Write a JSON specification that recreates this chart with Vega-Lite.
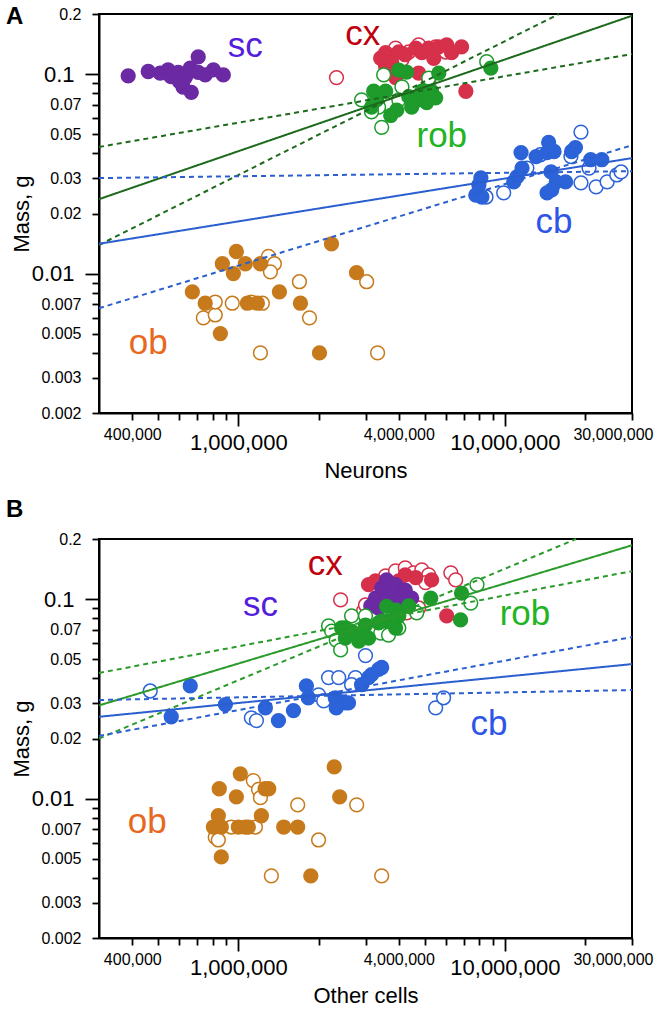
{
  "$schema": "https://vega.github.io/schema/vega-lite/v6.json",
  "background": "white",
  "padding": {"left": 5, "top": 4, "right": 5, "bottom": 5},
  "spacing": 15,
  "config": {
    "view": {"stroke": "black", "strokeWidth": 2},
    "font": "Liberation Sans",
    "axis": {"grid": false, "domainColor": "black", "domainWidth": 2, "tickColor": "black", "tickWidth": 1.8, "labelColor": "black", "titleColor": "black", "labelFont": "Liberation Sans", "titleFont": "Liberation Sans", "titleFontWeight": "normal", "titleFontSize": 22, "labelOverlap": false, "labelBound": false}
  },
  "datasets": {
    "pts": [
      {"p":"A","g":"cx","o":1,"N":2335000,"M":0.096},
      {"p":"A","g":"cx","o":1,"N":3890000,"M":0.135},
      {"p":"A","g":"cx","o":1,"N":4360000,"M":0.129},
      {"p":"A","g":"cx","o":1,"N":4750000,"M":0.14},
      {"p":"A","g":"cx","o":1,"N":5500000,"M":0.137},
      {"p":"A","g":"cx","o":1,"N":6000000,"M":0.129},
      {"p":"A","g":"cx","o":1,"N":4110000,"M":0.118},
      {"p":"A","g":"cx","o":0,"N":3420000,"M":0.12},
      {"p":"A","g":"cx","o":0,"N":3570000,"M":0.128},
      {"p":"A","g":"cx","o":0,"N":3760000,"M":0.114},
      {"p":"A","g":"cx","o":0,"N":4000000,"M":0.129},
      {"p":"A","g":"cx","o":0,"N":4230000,"M":0.125},
      {"p":"A","g":"cx","o":0,"N":4630000,"M":0.135},
      {"p":"A","g":"cx","o":0,"N":4880000,"M":0.128},
      {"p":"A","g":"cx","o":0,"N":5180000,"M":0.135},
      {"p":"A","g":"cx","o":0,"N":5410000,"M":0.12},
      {"p":"A","g":"cx","o":0,"N":5650000,"M":0.137},
      {"p":"A","g":"cx","o":0,"N":6050000,"M":0.14},
      {"p":"A","g":"cx","o":0,"N":6310000,"M":0.128},
      {"p":"A","g":"cx","o":0,"N":6880000,"M":0.137},
      {"p":"A","g":"cx","o":0,"N":3570000,"M":0.109},
      {"p":"A","g":"cx","o":0,"N":3890000,"M":0.096},
      {"p":"A","g":"cx","o":0,"N":4750000,"M":0.101},
      {"p":"A","g":"cx","o":0,"N":5180000,"M":0.092},
      {"p":"A","g":"cx","o":0,"N":7140000,"M":0.082},
      {"p":"A","g":"sc","o":0,"N":386000,"M":0.098},
      {"p":"A","g":"sc","o":0,"N":459000,"M":0.103},
      {"p":"A","g":"sc","o":0,"N":509000,"M":0.101},
      {"p":"A","g":"sc","o":0,"N":545000,"M":0.105},
      {"p":"A","g":"sc","o":0,"N":595000,"M":0.102},
      {"p":"A","g":"sc","o":0,"N":632000,"M":0.096},
      {"p":"A","g":"sc","o":0,"N":660000,"M":0.107},
      {"p":"A","g":"sc","o":0,"N":707000,"M":0.122},
      {"p":"A","g":"sc","o":0,"N":707000,"M":0.102},
      {"p":"A","g":"sc","o":0,"N":751000,"M":0.099},
      {"p":"A","g":"sc","o":0,"N":806000,"M":0.105},
      {"p":"A","g":"sc","o":0,"N":878000,"M":0.099},
      {"p":"A","g":"sc","o":0,"N":666000,"M":0.081},
      {"p":"A","g":"sc","o":0,"N":620000,"M":0.086},
      {"p":"A","g":"sc","o":0,"N":559000,"M":0.097},
      {"p":"A","g":"sc","o":0,"N":640000,"M":0.1},
      {"p":"A","g":"sc","o":0,"N":600000,"M":0.092},
      {"p":"A","g":"rob","o":1,"N":3510000,"M":0.099},
      {"p":"A","g":"rob","o":1,"N":2900000,"M":0.0743},
      {"p":"A","g":"rob","o":1,"N":3360000,"M":0.0683},
      {"p":"A","g":"rob","o":1,"N":3450000,"M":0.0541},
      {"p":"A","g":"rob","o":1,"N":4000000,"M":0.0743},
      {"p":"A","g":"rob","o":1,"N":4110000,"M":0.0862},
      {"p":"A","g":"rob","o":1,"N":5180000,"M":0.0955},
      {"p":"A","g":"rob","o":1,"N":3160000,"M":0.0646},
      {"p":"A","g":"rob","o":1,"N":8550000,"M":0.1154},
      {"p":"A","g":"rob","o":0,"N":4000000,"M":0.1047},
      {"p":"A","g":"rob","o":0,"N":4280000,"M":0.1023},
      {"p":"A","g":"rob","o":0,"N":5650000,"M":0.101},
      {"p":"A","g":"rob","o":0,"N":5310000,"M":0.082},
      {"p":"A","g":"rob","o":0,"N":5500000,"M":0.076},
      {"p":"A","g":"rob","o":0,"N":4750000,"M":0.0743},
      {"p":"A","g":"rob","o":0,"N":4470000,"M":0.0683},
      {"p":"A","g":"rob","o":0,"N":3930000,"M":0.066},
      {"p":"A","g":"rob","o":0,"N":3730000,"M":0.062},
      {"p":"A","g":"rob","o":0,"N":3300000,"M":0.0743},
      {"p":"A","g":"rob","o":0,"N":3220000,"M":0.082},
      {"p":"A","g":"rob","o":0,"N":3570000,"M":0.082},
      {"p":"A","g":"rob","o":0,"N":3160000,"M":0.0683},
      {"p":"A","g":"rob","o":0,"N":4880000,"M":0.082},
      {"p":"A","g":"rob","o":0,"N":4360000,"M":0.077},
      {"p":"A","g":"rob","o":0,"N":5090000,"M":0.072},
      {"p":"A","g":"rob","o":0,"N":8860000,"M":0.107},
      {"p":"A","g":"cb","o":1,"N":19300000,"M":0.0512},
      {"p":"A","g":"cb","o":1,"N":9900000,"M":0.0254},
      {"p":"A","g":"cb","o":1,"N":8500000,"M":0.0242},
      {"p":"A","g":"cb","o":1,"N":12100000,"M":0.0338},
      {"p":"A","g":"cb","o":1,"N":19300000,"M":0.0285},
      {"p":"A","g":"cb","o":1,"N":22000000,"M":0.0272},
      {"p":"A","g":"cb","o":1,"N":24200000,"M":0.0288},
      {"p":"A","g":"cb","o":1,"N":26300000,"M":0.0312},
      {"p":"A","g":"cb","o":1,"N":27300000,"M":0.0323},
      {"p":"A","g":"cb","o":1,"N":13600000,"M":0.0394},
      {"p":"A","g":"cb","o":1,"N":17700000,"M":0.0386},
      {"p":"A","g":"cb","o":1,"N":20700000,"M":0.0338},
      {"p":"A","g":"cb","o":0,"N":8130000,"M":0.0302},
      {"p":"A","g":"cb","o":0,"N":7780000,"M":0.0247},
      {"p":"A","g":"cb","o":0,"N":8200000,"M":0.0242},
      {"p":"A","g":"cb","o":0,"N":7990000,"M":0.0278},
      {"p":"A","g":"cb","o":0,"N":11500000,"M":0.0404},
      {"p":"A","g":"cb","o":0,"N":11600000,"M":0.0338},
      {"p":"A","g":"cb","o":0,"N":10800000,"M":0.0288},
      {"p":"A","g":"cb","o":0,"N":11100000,"M":0.0305},
      {"p":"A","g":"cb","o":0,"N":14600000,"M":0.0454},
      {"p":"A","g":"cb","o":0,"N":14400000,"M":0.0404},
      {"p":"A","g":"cb","o":0,"N":15300000,"M":0.0409},
      {"p":"A","g":"cb","o":0,"N":14900000,"M":0.0323},
      {"p":"A","g":"cb","o":0,"N":15600000,"M":0.0288},
      {"p":"A","g":"cb","o":0,"N":14400000,"M":0.0254},
      {"p":"A","g":"cb","o":0,"N":15000000,"M":0.0263},
      {"p":"A","g":"cb","o":0,"N":16900000,"M":0.0288},
      {"p":"A","g":"cb","o":0,"N":17800000,"M":0.0409},
      {"p":"A","g":"cb","o":0,"N":18400000,"M":0.0428},
      {"p":"A","g":"cb","o":0,"N":21000000,"M":0.0372},
      {"p":"A","g":"cb","o":0,"N":23100000,"M":0.0372},
      {"p":"A","g":"cb","o":0,"N":13100000,"M":0.0386},
      {"p":"A","g":"ob","o":1,"N":739000,"M":0.006},
      {"p":"A","g":"ob","o":1,"N":819000,"M":0.0062},
      {"p":"A","g":"ob","o":1,"N":819000,"M":0.0072},
      {"p":"A","g":"ob","o":1,"N":949000,"M":0.0071},
      {"p":"A","g":"ob","o":1,"N":1119000,"M":0.0072},
      {"p":"A","g":"ob","o":1,"N":1231000,"M":0.0071},
      {"p":"A","g":"ob","o":1,"N":1297000,"M":0.0122},
      {"p":"A","g":"ob","o":1,"N":1365000,"M":0.0112},
      {"p":"A","g":"ob","o":1,"N":1319000,"M":0.0102},
      {"p":"A","g":"ob","o":1,"N":1210000,"M":0.004},
      {"p":"A","g":"ob","o":1,"N":1695000,"M":0.0091},
      {"p":"A","g":"ob","o":1,"N":1849000,"M":0.006},
      {"p":"A","g":"ob","o":1,"N":3030000,"M":0.0091},
      {"p":"A","g":"ob","o":1,"N":3330000,"M":0.004},
      {"p":"A","g":"ob","o":0,"N":672000,"M":0.0081},
      {"p":"A","g":"ob","o":0,"N":751000,"M":0.0071},
      {"p":"A","g":"ob","o":0,"N":856000,"M":0.005},
      {"p":"A","g":"ob","o":0,"N":871000,"M":0.0112},
      {"p":"A","g":"ob","o":0,"N":983000,"M":0.0129},
      {"p":"A","g":"ob","o":0,"N":958000,"M":0.01},
      {"p":"A","g":"ob","o":0,"N":1062000,"M":0.0112},
      {"p":"A","g":"ob","o":0,"N":1081000,"M":0.0071},
      {"p":"A","g":"ob","o":0,"N":1179000,"M":0.0071},
      {"p":"A","g":"ob","o":0,"N":1210000,"M":0.0112},
      {"p":"A","g":"ob","o":0,"N":1426000,"M":0.0081},
      {"p":"A","g":"ob","o":0,"N":1710000,"M":0.0071},
      {"p":"A","g":"ob","o":0,"N":2016000,"M":0.004},
      {"p":"A","g":"ob","o":0,"N":2236000,"M":0.0141},
      {"p":"A","g":"ob","o":0,"N":2776000,"M":0.0101},

      {"p":"B","g":"cx","o":1,"N":2420000,"M":0.099},
      {"p":"B","g":"cx","o":1,"N":2950000,"M":0.0873},
      {"p":"B","g":"cx","o":1,"N":3000000,"M":0.0934},
      {"p":"B","g":"cx","o":1,"N":4750000,"M":0.0902},
      {"p":"B","g":"cx","o":1,"N":4280000,"M":0.0853},
      {"p":"B","g":"cx","o":1,"N":3570000,"M":0.1308},
      {"p":"B","g":"cx","o":1,"N":3890000,"M":0.1384},
      {"p":"B","g":"cx","o":1,"N":4230000,"M":0.1434},
      {"p":"B","g":"cx","o":1,"N":4540000,"M":0.1354},
      {"p":"B","g":"cx","o":1,"N":4880000,"M":0.14},
      {"p":"B","g":"cx","o":1,"N":5180000,"M":0.1323},
      {"p":"B","g":"cx","o":1,"N":5040000,"M":0.121},
      {"p":"B","g":"cx","o":1,"N":6270000,"M":0.1354},
      {"p":"B","g":"cx","o":1,"N":6540000,"M":0.1247},
      {"p":"B","g":"cx","o":0,"N":3270000,"M":0.1234},
      {"p":"B","g":"cx","o":0,"N":3080000,"M":0.118},
      {"p":"B","g":"cx","o":0,"N":4230000,"M":0.1323},
      {"p":"B","g":"cx","o":0,"N":4630000,"M":0.128},
      {"p":"B","g":"cx","o":0,"N":4000000,"M":0.1234},
      {"p":"B","g":"cx","o":0,"N":5310000,"M":0.1247},
      {"p":"B","g":"cx","o":0,"N":6050000,"M":0.0824},
      {"p":"B","g":"sc","o":0,"N":3140000,"M":0.0923},
      {"p":"B","g":"sc","o":0,"N":3270000,"M":0.101},
      {"p":"B","g":"sc","o":0,"N":3450000,"M":0.1136},
      {"p":"B","g":"sc","o":0,"N":3600000,"M":0.1247},
      {"p":"B","g":"sc","o":0,"N":3890000,"M":0.118},
      {"p":"B","g":"sc","o":0,"N":4000000,"M":0.1047},
      {"p":"B","g":"sc","o":0,"N":4230000,"M":0.1108},
      {"p":"B","g":"sc","o":0,"N":3730000,"M":0.0977},
      {"p":"B","g":"sc","o":0,"N":3570000,"M":0.1047},
      {"p":"B","g":"sc","o":0,"N":4470000,"M":0.101},
      {"p":"B","g":"sc","o":0,"N":3360000,"M":0.0902},
      {"p":"B","g":"sc","o":0,"N":4110000,"M":0.0977},
      {"p":"B","g":"rob","o":1,"N":2180000,"M":0.0733},
      {"p":"B","g":"rob","o":1,"N":2240000,"M":0.069},
      {"p":"B","g":"rob","o":1,"N":2330000,"M":0.0623},
      {"p":"B","g":"rob","o":1,"N":2420000,"M":0.0556},
      {"p":"B","g":"rob","o":1,"N":2660000,"M":0.0824},
      {"p":"B","g":"rob","o":1,"N":3420000,"M":0.0675},
      {"p":"B","g":"rob","o":1,"N":3000000,"M":0.0824},
      {"p":"B","g":"rob","o":1,"N":4670000,"M":0.0853},
      {"p":"B","g":"rob","o":1,"N":7860000,"M":0.118},
      {"p":"B","g":"rob","o":1,"N":7450000,"M":0.0955},
      {"p":"B","g":"rob","o":1,"N":4000000,"M":0.0716},
      {"p":"B","g":"rob","o":1,"N":3660000,"M":0.066},
      {"p":"B","g":"rob","o":0,"N":2440000,"M":0.0716},
      {"p":"B","g":"rob","o":0,"N":2520000,"M":0.0716},
      {"p":"B","g":"rob","o":0,"N":2660000,"M":0.069},
      {"p":"B","g":"rob","o":0,"N":2900000,"M":0.066},
      {"p":"B","g":"rob","o":0,"N":2520000,"M":0.0637},
      {"p":"B","g":"rob","o":0,"N":3000000,"M":0.0741},
      {"p":"B","g":"rob","o":0,"N":3080000,"M":0.0637},
      {"p":"B","g":"rob","o":0,"N":2830000,"M":0.0616},
      {"p":"B","g":"rob","o":0,"N":3360000,"M":0.0759},
      {"p":"B","g":"rob","o":0,"N":3660000,"M":0.0776},
      {"p":"B","g":"rob","o":0,"N":3890000,"M":0.0716},
      {"p":"B","g":"rob","o":0,"N":4000000,"M":0.0824},
      {"p":"B","g":"rob","o":0,"N":4360000,"M":0.0923},
      {"p":"B","g":"rob","o":0,"N":5270000,"M":0.101},
      {"p":"B","g":"rob","o":0,"N":6880000,"M":0.107},
      {"p":"B","g":"rob","o":0,"N":6820000,"M":0.0786},
      {"p":"B","g":"rob","o":0,"N":3450000,"M":0.0776},
      {"p":"B","g":"rob","o":0,"N":3760000,"M":0.0776},
      {"p":"B","g":"rob","o":0,"N":3600000,"M":0.092},
      {"p":"B","g":"rob","o":0,"N":3900000,"M":0.088},
      {"p":"B","g":"cb","o":1,"N":467000,"M":0.0346},
      {"p":"B","g":"cb","o":1,"N":1119000,"M":0.0254},
      {"p":"B","g":"cb","o":1,"N":1169000,"M":0.0246},
      {"p":"B","g":"cb","o":1,"N":2000000,"M":0.0331},
      {"p":"B","g":"cb","o":1,"N":2090000,"M":0.0309},
      {"p":"B","g":"cb","o":1,"N":2180000,"M":0.0404},
      {"p":"B","g":"cb","o":1,"N":2380000,"M":0.0404},
      {"p":"B","g":"cb","o":1,"N":2750000,"M":0.0404},
      {"p":"B","g":"cb","o":1,"N":3000000,"M":0.0521},
      {"p":"B","g":"cb","o":1,"N":2660000,"M":0.0372},
      {"p":"B","g":"cb","o":1,"N":5500000,"M":0.0285},
      {"p":"B","g":"cb","o":1,"N":5890000,"M":0.032},
      {"p":"B","g":"cb","o":0,"N":560000,"M":0.0257},
      {"p":"B","g":"cb","o":0,"N":660000,"M":0.0367},
      {"p":"B","g":"cb","o":0,"N":894000,"M":0.0296},
      {"p":"B","g":"cb","o":0,"N":1263000,"M":0.0285},
      {"p":"B","g":"cb","o":0,"N":1414000,"M":0.0246},
      {"p":"B","g":"cb","o":0,"N":1610000,"M":0.0276},
      {"p":"B","g":"cb","o":0,"N":1800000,"M":0.0367},
      {"p":"B","g":"cb","o":0,"N":1830000,"M":0.032},
      {"p":"B","g":"cb","o":0,"N":2310000,"M":0.032},
      {"p":"B","g":"cb","o":0,"N":2520000,"M":0.0302},
      {"p":"B","g":"cb","o":0,"N":2590000,"M":0.0302},
      {"p":"B","g":"cb","o":0,"N":2330000,"M":0.0285},
      {"p":"B","g":"cb","o":0,"N":2900000,"M":0.0372},
      {"p":"B","g":"cb","o":0,"N":3080000,"M":0.0404},
      {"p":"B","g":"cb","o":0,"N":3360000,"M":0.0444},
      {"p":"B","g":"cb","o":0,"N":3450000,"M":0.0454},
      {"p":"B","g":"cb","o":0,"N":3160000,"M":0.0418},
      {"p":"B","g":"ob","o":1,"N":819000,"M":0.0064},
      {"p":"B","g":"ob","o":1,"N":841000,"M":0.0062},
      {"p":"B","g":"ob","o":1,"N":941000,"M":0.0072},
      {"p":"B","g":"ob","o":1,"N":1062000,"M":0.0072},
      {"p":"B","g":"ob","o":1,"N":1159000,"M":0.0072},
      {"p":"B","g":"ob","o":1,"N":1138000,"M":0.0123},
      {"p":"B","g":"ob","o":1,"N":1190000,"M":0.0111},
      {"p":"B","g":"ob","o":1,"N":1210000,"M":0.0101},
      {"p":"B","g":"ob","o":1,"N":1670000,"M":0.0093},
      {"p":"B","g":"ob","o":1,"N":2000000,"M":0.0062},
      {"p":"B","g":"ob","o":1,"N":1330000,"M":0.0041},
      {"p":"B","g":"ob","o":1,"N":2780000,"M":0.0093},
      {"p":"B","g":"ob","o":1,"N":3450000,"M":0.0041},
      {"p":"B","g":"ob","o":0,"N":848000,"M":0.0112},
      {"p":"B","g":"ob","o":0,"N":1017000,"M":0.0133},
      {"p":"B","g":"ob","o":0,"N":983000,"M":0.0102},
      {"p":"B","g":"ob","o":0,"N":841000,"M":0.0082},
      {"p":"B","g":"ob","o":0,"N":806000,"M":0.0072},
      {"p":"B","g":"ob","o":0,"N":863000,"M":0.0072},
      {"p":"B","g":"ob","o":0,"N":863000,"M":0.0051},
      {"p":"B","g":"ob","o":0,"N":1000000,"M":0.0072},
      {"p":"B","g":"ob","o":0,"N":1090000,"M":0.0072},
      {"p":"B","g":"ob","o":0,"N":1220000,"M":0.0082},
      {"p":"B","g":"ob","o":0,"N":1260000,"M":0.0112},
      {"p":"B","g":"ob","o":0,"N":1300000,"M":0.0112},
      {"p":"B","g":"ob","o":0,"N":1480000,"M":0.0072},
      {"p":"B","g":"ob","o":0,"N":1670000,"M":0.0072},
      {"p":"B","g":"ob","o":0,"N":1870000,"M":0.0041},
      {"p":"B","g":"ob","o":0,"N":2290000,"M":0.0144},
      {"p":"B","g":"ob","o":0,"N":2400000,"M":0.0102}
    ],
    "lines": [
      {"p":"A","g":"rob","k":"fit","N":300000,"M":0.0236},
      {"p":"A","g":"rob","k":"fit","N":30000000,"M":0.196},
      {"p":"A","g":"rob","k":"hi","N":300000,"M":0.0431},
      {"p":"A","g":"rob","k":"hi","N":30000000,"M":0.126},
      {"p":"A","g":"rob","k":"lo","N":300000,"M":0.0139},
      {"p":"A","g":"rob","k":"lo","N":15960000,"M":0.2},
      {"p":"A","g":"cb","k":"fit","N":300000,"M":0.0141},
      {"p":"A","g":"cb","k":"fit","N":30000000,"M":0.0379},
      {"p":"A","g":"cb","k":"hi","N":300000,"M":0.0301},
      {"p":"A","g":"cb","k":"hi","N":30000000,"M":0.0326},
      {"p":"A","g":"cb","k":"lo","N":300000,"M":0.0067},
      {"p":"A","g":"cb","k":"lo","N":30000000,"M":0.044},
      {"p":"B","g":"rob","k":"fit","N":300000,"M":0.0293},
      {"p":"B","g":"rob","k":"fit","N":30000000,"M":0.186},
      {"p":"B","g":"rob","k":"hi","N":300000,"M":0.0426},
      {"p":"B","g":"rob","k":"hi","N":30000000,"M":0.138},
      {"p":"B","g":"rob","k":"lo","N":300000,"M":0.02},
      {"p":"B","g":"rob","k":"lo","N":18500000,"M":0.2},
      {"p":"B","g":"cb","k":"fit","N":300000,"M":0.0257},
      {"p":"B","g":"cb","k":"fit","N":30000000,"M":0.0472},
      {"p":"B","g":"cb","k":"hi","N":300000,"M":0.0312},
      {"p":"B","g":"cb","k":"hi","N":30000000,"M":0.035},
      {"p":"B","g":"cb","k":"lo","N":300000,"M":0.0206},
      {"p":"B","g":"cb","k":"lo","N":30000000,"M":0.0645}
    ],
    "labs": [
      {"p":"A","g":"sc","t":"sc","N":1062000,"M":0.1218},
      {"p":"A","g":"cx","t":"cx","N":2930000,"M":0.14},
      {"p":"A","g":"rob","t":"rob","N":5800000,"M":0.0431},
      {"p":"A","g":"cb","t":"cb","N":15300000,"M":0.016},
      {"p":"A","g":"ob","t":"ob","N":459000,"M":0.00394},
      {"p":"B","g":"cx","t":"cx","N":2120000,"M":0.132},
      {"p":"B","g":"sc","t":"sc","N":1210000,"M":0.0824},
      {"p":"B","g":"rob","t":"rob","N":11900000,"M":0.0741},
      {"p":"B","g":"cb","t":"cb","N":8710000,"M":0.0208},
      {"p":"B","g":"ob","t":"ob","N":455000,"M":0.0067}
    ]
  },
  "vconcat": [
    {
      "width": 533,
      "height": 399,
      "title": {"text": "A", "anchor": "start", "frame": "group", "dx": -93, "dy": 0, "offset": -42, "baseline": "alphabetic", "fontSize": 24, "fontWeight": "bold", "color": "black", "font": "Liberation Sans"},
      "encoding": {
        "x": {"field": "N", "type": "quantitative",
          "scale": {"type": "log", "domain": [300000, 30000000], "nice": false},
          "axis": {"title": "Neurons", "titlePadding": 7,
            "values": [400000,500000,600000,700000,800000,900000,1000000,2000000,3000000,4000000,5000000,6000000,7000000,8000000,9000000,10000000,20000000,30000000],
            "labelExpr": "(datum.value==400000||datum.value==1000000||datum.value==4000000||datum.value==10000000||datum.value==30000000) ? format(datum.value, ',') : ''",
            "labelFontSize": {"condition": {"test": "datum.value==1000000||datum.value==10000000", "value": 22}, "value": 16},
            "tickSize": {"condition": {"test": "datum.value==1000000||datum.value==10000000", "value": 13}, "value": 7},
            "labelPadding": 6, "labelFlush": true, "labelFlushOffset": 21}},
        "y": {"field": "M", "type": "quantitative",
          "scale": {"type": "log", "domain": [0.002, 0.2], "nice": false},
          "axis": {"title": "Mass, g", "titlePadding": -2,
            "values": [0.002,0.003,0.004,0.005,0.006,0.007,0.008,0.009,0.01,0.02,0.03,0.04,0.05,0.06,0.07,0.08,0.09,0.1,0.2],
            "labelExpr": "indexof([0.002,0.003,0.005,0.007,0.01,0.02,0.03,0.05,0.07,0.1,0.2], datum.value) >= 0 ? format(datum.value, '') : ''",
            "labelFontSize": {"condition": {"test": "datum.value==0.01||datum.value==0.1", "value": 22}, "value": 16},
            "tickSize": {"condition": {"test": "datum.value==0.01||datum.value==0.1", "value": 14}, "value": 7},
            "labelPadding": 11}}
      },
      "layer": [
        {"data": {"name": "pts"}, "transform": [{"filter": "datum.p=='A'"}],
          "mark": {"type": "circle", "size": 190, "strokeWidth": 1.5, "opacity": 1},
          "encoding": {
            "fill": {"condition": {"test": "datum.o==1", "value": "white"}, "field": "g", "type": "nominal", "scale": {"domain": ["cx","sc","rob","cb","ob"], "range": ["#d6304b","#6b2aa3","#1e9b2b","#2c63d8","#c77a1c"]}, "legend": null},
            "stroke": {"field": "g", "type": "nominal", "scale": {"domain": ["cx","sc","rob","cb","ob"], "range": ["#d6304b","#6b2aa3","#1e9b2b","#2c63d8","#c77a1c"]}, "legend": null}
          }},
        {"data": {"name": "lines"}, "transform": [{"filter": "datum.p=='A'"}],
          "mark": {"type": "line", "strokeWidth": 2},
          "encoding": {
            "stroke": {"field": "g", "type": "nominal", "scale": {"domain": ["rob","cb"], "range": ["#1d6a1d","#2b5fd0"]}, "legend": null},
            "strokeDash": {"field": "k", "type": "nominal", "scale": {"domain": ["fit","lo","hi"], "range": [[1,0],[5,4],[5,4]]}, "legend": null}
          }},
        {"data": {"name": "labs"}, "transform": [{"filter": "datum.p=='A'"}],
          "mark": {"type": "text", "fontSize": 35, "font": "Liberation Sans", "baseline": "alphabetic", "align": "center"},
          "encoding": {
            "text": {"field": "t"},
            "color": {"field": "g", "type": "nominal", "scale": {"domain": ["cx","sc","rob","cb","ob"], "range": ["#c0000e","#5220dc","#22b422","#2e55e8","#e8681e"]}, "legend": null}
          }}
      ],
      "resolve": {"scale": {"stroke": "independent"}}
    },
    {
      "width": 533,
      "height": 399,
      "title": {"text": "B", "anchor": "start", "frame": "group", "dx": -93, "dy": 0, "offset": -10, "baseline": "alphabetic", "fontSize": 24, "fontWeight": "bold", "color": "black", "font": "Liberation Sans"},
      "encoding": {
        "x": {"field": "N", "type": "quantitative",
          "scale": {"type": "log", "domain": [300000, 30000000], "nice": false},
          "axis": {"title": "Other cells", "titlePadding": 7,
            "values": [400000,500000,600000,700000,800000,900000,1000000,2000000,3000000,4000000,5000000,6000000,7000000,8000000,9000000,10000000,20000000,30000000],
            "labelExpr": "(datum.value==400000||datum.value==1000000||datum.value==4000000||datum.value==10000000||datum.value==30000000) ? format(datum.value, ',') : ''",
            "labelFontSize": {"condition": {"test": "datum.value==1000000||datum.value==10000000", "value": 22}, "value": 16},
            "tickSize": {"condition": {"test": "datum.value==1000000||datum.value==10000000", "value": 13}, "value": 7},
            "labelPadding": 6, "labelFlush": true, "labelFlushOffset": 21}},
        "y": {"field": "M", "type": "quantitative",
          "scale": {"type": "log", "domain": [0.002, 0.2], "nice": false},
          "axis": {"title": "Mass, g", "titlePadding": -2,
            "values": [0.002,0.003,0.004,0.005,0.006,0.007,0.008,0.009,0.01,0.02,0.03,0.04,0.05,0.06,0.07,0.08,0.09,0.1,0.2],
            "labelExpr": "indexof([0.002,0.003,0.005,0.007,0.01,0.02,0.03,0.05,0.07,0.1,0.2], datum.value) >= 0 ? format(datum.value, '') : ''",
            "labelFontSize": {"condition": {"test": "datum.value==0.01||datum.value==0.1", "value": 22}, "value": 16},
            "tickSize": {"condition": {"test": "datum.value==0.01||datum.value==0.1", "value": 14}, "value": 7},
            "labelPadding": 11}}
      },
      "layer": [
        {"data": {"name": "pts"}, "transform": [{"filter": "datum.p=='B'"}],
          "mark": {"type": "circle", "size": 190, "strokeWidth": 1.5, "opacity": 1},
          "encoding": {
            "fill": {"condition": {"test": "datum.o==1", "value": "white"}, "field": "g", "type": "nominal", "scale": {"domain": ["cx","sc","rob","cb","ob"], "range": ["#d6304b","#6b2aa3","#1e9b2b","#2c63d8","#c77a1c"]}, "legend": null},
            "stroke": {"field": "g", "type": "nominal", "scale": {"domain": ["cx","sc","rob","cb","ob"], "range": ["#d6304b","#6b2aa3","#1e9b2b","#2c63d8","#c77a1c"]}, "legend": null}
          }},
        {"data": {"name": "lines"}, "transform": [{"filter": "datum.p=='B'"}],
          "mark": {"type": "line", "strokeWidth": 2},
          "encoding": {
            "stroke": {"field": "g", "type": "nominal", "scale": {"domain": ["rob","cb"], "range": ["#2a9a2a","#2b5fd0"]}, "legend": null},
            "strokeDash": {"field": "k", "type": "nominal", "scale": {"domain": ["fit","lo","hi"], "range": [[1,0],[5,4],[5,4]]}, "legend": null}
          }},
        {"data": {"name": "labs"}, "transform": [{"filter": "datum.p=='B'"}],
          "mark": {"type": "text", "fontSize": 35, "font": "Liberation Sans", "baseline": "alphabetic", "align": "center"},
          "encoding": {
            "text": {"field": "t"},
            "color": {"field": "g", "type": "nominal", "scale": {"domain": ["cx","sc","rob","cb","ob"], "range": ["#c0000e","#5220dc","#22b422","#2e55e8","#e8681e"]}, "legend": null}
          }}
      ],
      "resolve": {"scale": {"stroke": "independent"}}
    }
  ]
}
